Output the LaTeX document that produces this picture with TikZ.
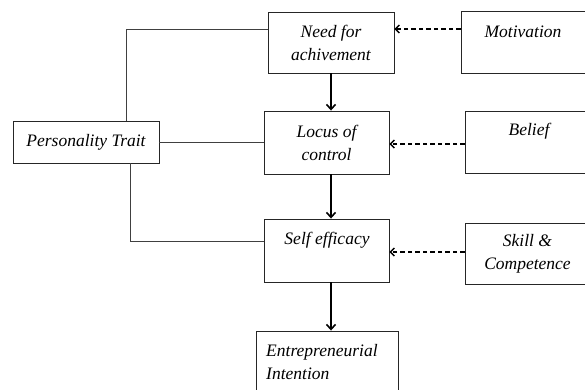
\documentclass[tikz,border=0pt]{standalone}
\usepackage{fontspec}
\setmainfont{Liberation Serif}
\usetikzlibrary{arrows.meta,calc}
\tikzset{
  box/.style={draw=black!85, line width=0.9pt, rectangle, inner sep=0pt, align=center,
              font=\fontsize{17.5}{23}\selectfont\itshape},
  toplab/.style={font=\fontsize{17.5}{23}\selectfont\itshape, align=center, inner sep=0pt},
  link/.style={draw=black!75, line width=0.9pt},
  solidarrow/.style={line width=1.8pt, -{Straight Barb[length=5pt,width=9pt,line width=1.6pt]}},
  dasharrow/.style={line width=1.5pt, dash pattern=on 4.5pt off 3pt,
                    -{Straight Barb[length=4pt,width=8pt,line width=1.4pt]}}
}
\begin{document}
\begin{tikzpicture}[x=1pt,y=-1pt]
\useasboundingbox (0,0) rectangle (585,389);
\fill[white] (0,0) rectangle (585,389);
% boxes
\node[box, minimum width=146pt, minimum height=42pt] (pers) at (86,142) {Personality Trait};
\node[box, minimum width=126pt, minimum height=61pt] (need) at (331,42.5) {Need for\\achivement};
\node[box, minimum width=125pt, minimum height=63pt] (loc) at (326.5,142.5) {Locus of\\control};
\node[box, minimum width=125pt, minimum height=63pt] (self) at (326.5,250.5) {};
\node[toplab] (selft) at (327,240) {Self efficacy};
\node[box, minimum width=142pt, minimum height=70pt] (ent) at (327,366) {};
\node[toplab, align=left, anchor=west] (entt) at (266,362.5) {Entrepreneurial\\Intention};
\node[box, minimum width=126pt, minimum height=62pt] (mot) at (524,42) {};
\node[toplab] (mott) at (523,31.5) {Motivation};
\node[box, minimum width=128pt, minimum height=62pt] (bel) at (529,142) {};
\node[toplab] (belt) at (529,131.5) {Belief};
\node[box, minimum width=125pt, minimum height=61pt] (skill) at (527.5,253.5) {Skill \&\\Competence};
% connectors from personality trait
\draw[link] ([xshift=40pt]pers.north) |- ([yshift=13.5pt]need.west);
\draw[link] (pers.east) -- (pers.east -| loc.west);
\draw[link] ([xshift=44pt]pers.south) |- ([yshift=9.5pt]self.west);
% solid arrows
\draw[solidarrow] (need.south) -- (need.south |- loc.north);
\draw[solidarrow] (need.south |- loc.south) -- (need.south |- self.north);
\draw[solidarrow] (need.south |- self.south) -- (need.south |- ent.north);
% dashed arrows
\draw[dasharrow] ([yshift=13pt]mot.west) -- ([yshift=13pt]mot.west -| need.east);
\draw[dasharrow] ([yshift=-2pt]bel.west) -- ([yshift=-2pt]bel.west -| loc.east);
\draw[dasharrow] ([yshift=1.5pt]skill.west) -- ([yshift=1.5pt]skill.west -| self.east);
\end{tikzpicture}
\end{document}
